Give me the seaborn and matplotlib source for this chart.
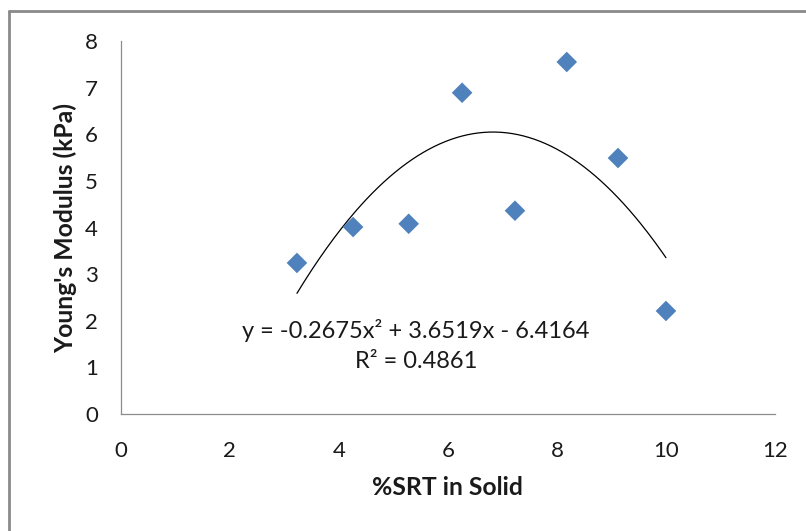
import numpy as np
import pandas as pd
import matplotlib
matplotlib.use("Agg")
import matplotlib.pyplot as plt
from matplotlib.lines import Line2D
import seaborn as sns

# Data
srt_pct = [3.23, 4.26, 5.28, 6.26, 7.23, 8.18, 9.12, 10.0]
youngs_kpa = [3.24, 4.01, 4.08, 6.89, 4.36, 7.55, 5.49, 2.21]

# printed trendline (Excel polynomial, order 2)
trend_coef = [-0.2675, 3.6519, -6.4164]
r_squared = 0.4861

x_ticks = [0, 2, 4, 6, 8, 10, 12]
y_ticks = [0, 1, 2, 3, 4, 5, 6, 7, 8]

df = pd.DataFrame({"srt": srt_pct, "E": youngs_kpa})
xs = np.linspace(min(srt_pct), max(srt_pct), 200)
trend = pd.DataFrame({"srt": xs, "E": np.polyval(trend_coef, xs)})

sns.set_style("white")
plt.rcParams["font.family"] = ["Lato", "DejaVu Sans"]

grey = "#8c8c8c"
blue = "#4f81bd"
txt = "#1a1a1a"

fig = plt.figure(figsize=(8.06, 5.31), dpi=100, facecolor="white")
ax = fig.add_axes([0.150, 0.2203, 0.8115, 0.7025])

sns.lineplot(data=trend, x="srt", y="E", ax=ax, color="black", linewidth=0.9)
sns.scatterplot(data=df, x="srt", y="E", ax=ax, marker="D", s=110,
                color=blue, edgecolor="none", zorder=3)

ax.set_xlim(0, 12)
ax.set_ylim(0, 8)
ax.set_xticks(x_ticks)
ax.set_yticks(y_ticks)
ax.tick_params(axis="both", direction="out", length=6.5, width=0.9, color=grey,
               labelsize=16, labelcolor=txt)
ax.tick_params(axis="y", pad=10)
ax.tick_params(axis="x", pad=13)

for side in ["top", "right"]:
    ax.spines[side].set_visible(False)
for side in ["left", "bottom"]:
    ax.spines[side].set_color(grey)
    ax.spines[side].set_linewidth(0.9)

ax.set_xlabel("%SRT in Solid", fontsize=17.8, fontweight="bold", color=txt, labelpad=11)
ax.set_ylabel("Young's Modulus (kPa)", fontsize=17.8, fontweight="bold", color=txt, labelpad=6)

eq = "y = {:.4f}x² + {:.4f}x - {:.4f}".format(trend_coef[0], trend_coef[1], -trend_coef[2])
ax.text(5.40, 1.80, eq, ha="center", va="center", fontsize=17, color=txt)
ax.text(5.41, 1.12, "R² = {:.4f}".format(r_squared), ha="center", va="center",
        fontsize=17, color=txt)

# outer chart-area border (left and top edges visible in the crop)
fig.add_artist(Line2D([9 / 806, 9 / 806], [0, 1 - 11 / 531], transform=fig.transFigure,
                      color="#8a8a8a", linewidth=2))
fig.add_artist(Line2D([9 / 806, 1], [1 - 11 / 531, 1 - 11 / 531], transform=fig.transFigure,
                      color="#8a8a8a", linewidth=2))

fig.savefig("out.png", dpi=100, facecolor="white")
